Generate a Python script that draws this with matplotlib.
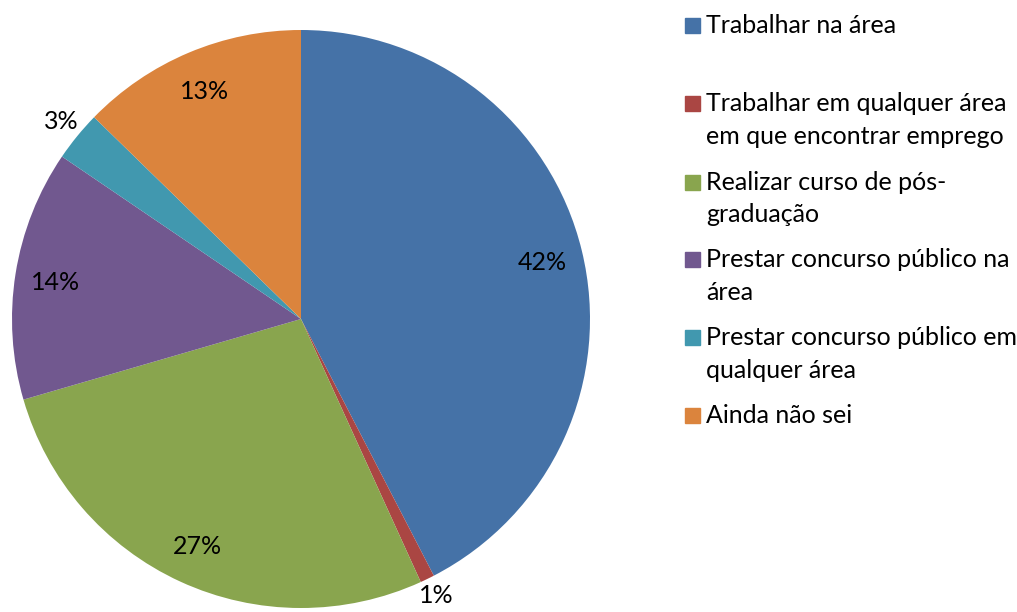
import matplotlib
matplotlib.use("Agg")
import matplotlib.pyplot as plt
from matplotlib.patches import Rectangle
import numpy as np

plt.rcParams['font.family'] = ['Lato', 'DejaVu Sans']

categories = ["Trabalhar na área",
              "Trabalhar em qualquer área\nem que encontrar emprego",
              "Realizar curso de pós-\ngraduação",
              "Prestar concurso público na\nárea",
              "Prestar concurso público em\nqualquer área",
              "Ainda não sei"]
values = [42.4, 0.8, 27.3, 14.0, 2.8, 12.7]
colors = ["#4572A7", "#AA4643", "#89A54E", "#71588F", "#4198AF", "#DB843D"]

W, H = 1017, 612
FS = 18
fig = plt.figure(figsize=(W / 100, H / 100), dpi=100)
cx, cy, r = 301, 319, 289
ax = fig.add_axes([(cx - r) / W, (H - cy - r) / H, 2 * r / W, 2 * r / H])
wedges, texts, autotexts = ax.pie(values, colors=colors, startangle=90, counterclock=False,
                                  autopct='%.0f%%', pctdistance=0.86, radius=1,
                                  textprops=dict(fontsize=FS, color='black'))
for w, t in zip(wedges, autotexts):
    t.set_va('center_baseline')
    if w.theta2 - w.theta1 < 15:
        ang = np.deg2rad((w.theta1 + w.theta2) / 2)
        t.set_va('center')
        t.set_position((1.07 * np.cos(ang), 1.08 * np.sin(ang) if np.sin(ang) > 0 else 1.065 * np.sin(ang)))
ax.set_xlim(-1, 1)
ax.set_ylim(-1, 1)
ax.set_aspect('equal')
ax.axis('off')

# legend
baselines = [33, 111, 190, 267, 345, 423]
line_step = 32.5
for cat, col, yb in zip(categories, colors, baselines):
    fig.patches.append(Rectangle((685 / W, (H - yb) / H), 15 / W, 15 / H,
                                 transform=fig.transFigure, color=col, figure=fig))
    for i, line in enumerate(cat.split("\n")):
        fig.text(706 / W, (H - yb - i * line_step) / H, line, fontsize=FS,
                 va='baseline', ha='left', transform=fig.transFigure)

fig.savefig("out.png", dpi=100)
